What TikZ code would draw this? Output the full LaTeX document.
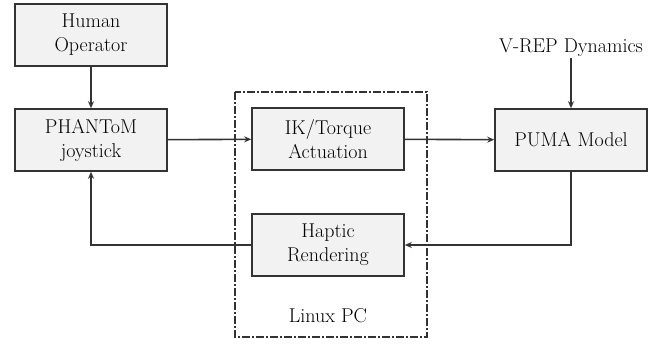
\documentclass[tikz,border=0pt]{standalone}
\usetikzlibrary{arrows.meta,positioning}
\definecolor{boxfill}{HTML}{F2F2F2}
\definecolor{linec}{HTML}{333333}
\begin{document}
\begin{tikzpicture}[x=1pt,y=-1pt,
  blk/.style={draw=linec,line width=1.6pt,fill=boxfill,minimum width=152pt,minimum height=62pt,align=center,inner sep=1pt,font=\fontsize{20}{24}\selectfont},
  conn/.style={draw=linec,line width=1.6pt,-{Stealth[length=7pt,width=6pt]}},
  lbl/.style={font=\fontsize{20}{24}\selectfont,inner sep=1pt}]
\useasboundingbox (0,0) rectangle (671,343);
\draw[linec,line width=1.2pt,dash pattern=on 8pt off 2pt on 2pt off 2pt] (235,92) rectangle (427,337);
\node[blk] (human) at (91,35) {Human\\Operator};
\node[blk] (phantom) at (91,140) {PHANToM\\joystick};
\node[blk] (ik) at (328,139) {IK/Torque\\Actuation};
\node[blk] (puma) at (571,140) {PUMA Model};
\node[blk] (haptic) at (328,245) {Haptic\\Rendering};
\node[lbl] (vrep) at (571,48) {V-REP Dynamics};
\node[lbl] (linux) at (328,316) {Linux PC};
\coordinate (c1) at (571,245);
\coordinate (c2) at (91,245);
\draw[conn] (human) -- (phantom);
\draw[conn] (vrep) -- (puma);
\draw[conn] (phantom) -- (ik);
\draw[conn] (ik) -- (puma);
\draw[conn] (puma.south) -- (c1) -- (haptic.east);
\draw[conn] (haptic.west) -- (c2) -- (phantom.south);
\end{tikzpicture}
\end{document}
